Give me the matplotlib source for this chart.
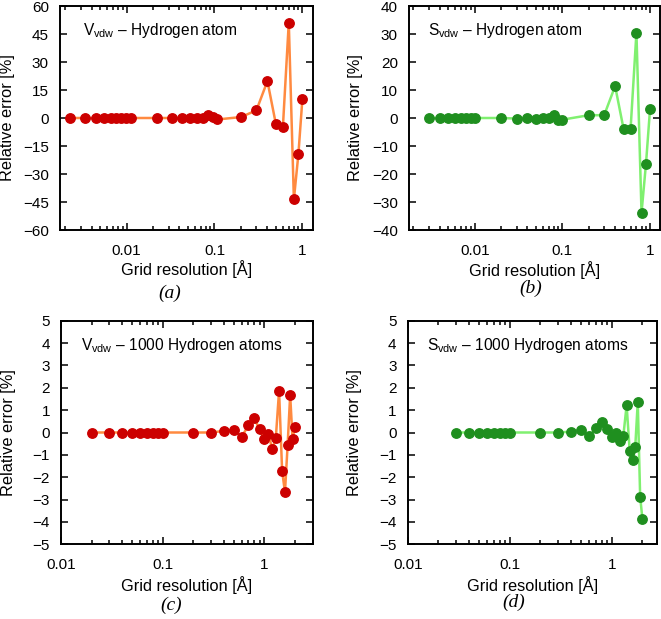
import matplotlib
matplotlib.use('Agg')
import matplotlib.pyplot as plt
from matplotlib.ticker import LogLocator, NullFormatter

plt.rcParams['font.family'] = ['Liberation Sans', 'DejaVu Sans']
plt.rcParams['mathtext.fontset'] = 'custom'
plt.rcParams['mathtext.rm'] = 'Liberation Sans'
plt.rcParams['mathtext.it'] = 'Liberation Sans:italic'

# (a) V_vdw - one hydrogen atom
a_x = [0.0023, 0.0034, 0.0045, 0.0056, 0.0066, 0.0076, 0.0087, 0.0098, 0.0111,
       0.022, 0.033, 0.043, 0.053, 0.063, 0.074, 0.084, 0.096, 0.107,
       0.2, 0.3, 0.4, 0.5, 0.6, 0.7, 0.8, 0.9, 1.0]
a_y = [0, 0, 0, 0, 0, 0, 0, 0, 0,
       0, 0, 0, 0, 0.2, 0, 1.8, 0.4, -0.8,
       0.5, 4.1, 19.8, -3.4, -4.8, 51.1, -43.6, -19.5, 10.2]

# (b) S_vdw - one hydrogen atom
b_x = [0.003, 0.004, 0.005, 0.006, 0.007, 0.008, 0.009, 0.01,
       0.02, 0.03, 0.04, 0.05, 0.06, 0.07, 0.08, 0.09, 0.1,
       0.2, 0.3, 0.4, 0.5, 0.6, 0.7, 0.8, 0.9, 1.0]
b_y = [0, 0, 0, 0, 0, 0, 0, 0,
       0, -0.2, 0.1, -0.5, -0.1, -0.1, 1.2, -0.8, -0.6,
       1.0, 1.0, 11.4, -4.0, -4.0, 30.5, -33.9, -16.3, 3.1]

# (c) V_vdw - 1000 hydrogen atoms
c_x = [0.02, 0.03, 0.04, 0.05, 0.06, 0.07, 0.08, 0.09, 0.1,
       0.2, 0.3, 0.4, 0.5, 0.6, 0.7, 0.8, 0.9, 1.0,
       1.1, 1.2, 1.3, 1.4, 1.5, 1.6, 1.7, 1.8, 1.9, 2.0]
c_y = [0, 0, 0, 0, 0, 0, 0, 0, 0,
       0, 0, 0.07, 0.11, -0.2, 0.33, 0.63, 0.14, -0.29,
       -0.06, -0.75, -0.26, 1.87, -1.71, -2.67, -0.56, 1.68, -0.29, 0.26]

# (d) S_vdw - 1000 hydrogen atoms
d_x = [0.03, 0.04, 0.05, 0.06, 0.07, 0.08, 0.09, 0.1,
       0.2, 0.3, 0.4, 0.5, 0.6, 0.7, 0.8, 0.9, 1.0,
       1.1, 1.2, 1.3, 1.4, 1.5, 1.6, 1.7, 1.8, 1.9, 2.0]
d_y = [0, 0, 0, 0, 0, 0, 0, 0,
       0, 0, 0.04, 0.1, -0.17, 0.19, 0.48, 0.16, -0.19,
       -0.02, -0.4, -0.15, 1.22, -0.82, -1.22, -0.66, 1.37, -2.87, -3.88]

titles = [r'V$_{\rm vdw}$ – Hydrogen atom', r'S$_{\rm vdw}$ – Hydrogen atom',
          r'V$_{\rm vdw}$ – 1000 Hydrogen atoms', r'S$_{\rm vdw}$ – 1000 Hydrogen atoms']
panel_tags = ['(a)', '(b)', '(c)', '(d)']

red, orange = '#cc0000', '#ff8a40'
green, lightgreen = '#1f8f1f', '#80f070'

fig = plt.figure(figsize=(6.61, 6.19), dpi=100)

W, H = 661.0, 619.0
boxes = [(60, 313, 6, 230), (409, 660, 6, 230), (61, 312.7, 320.7, 544.3), (407.7, 656.7, 320.7, 544.3)]
xlims = [(0.00175, 1.32), (0.00178, 1.3), (0.01, 3.0), (0.01, 2.76)]
ylims = [(-60, 60), (-40, 40), (-5, 5), (-5, 5)]
yticks = [range(-60, 61, 15), range(-40, 41, 10), range(-5, 6), range(-5, 6)]
series = [(a_x, a_y, orange, red), (b_x, b_y, lightgreen, green),
          (c_x, c_y, orange, red), (d_x, d_y, lightgreen, green)]
title_x = [0.091, 0.076, 0.079, 0.076]
tag_pos = [(170, 293), (531, 288), (171, 605), (514, 602)]

for i in range(4):
    l, r, t, b = boxes[i]
    ax = fig.add_axes([l / W, 1 - b / H, (r - l) / W, (b - t) / H])
    xs, ys, lc, mc = series[i]
    ax.plot(xs, ys, '-', color=lc, lw=1.8, zorder=2)
    ax.plot(xs, ys, 'o', color=mc, ms=6.8, mec=mc, zorder=3)
    ax.set_xscale('log')
    ax.set_xlim(*xlims[i])
    ax.set_ylim(*ylims[i])
    ax.set_yticks(list(yticks[i]))
    ax.set_xticks([0.01, 0.1, 1])
    ax.set_xticklabels(['0.01', '0.1', '1'])
    ax.xaxis.set_minor_locator(LogLocator(base=10, subs=range(2, 10), numticks=20))
    ax.xaxis.set_minor_formatter(NullFormatter())
    ax.tick_params(which='major', direction='in', top=True, right=True,
                   length=5, width=1.1, labelsize=11)
    ax.tick_params(which='minor', direction='in', top=True, right=True,
                   length=3, width=1.1)
    ax.tick_params(axis='x', which='major', pad=10)
    ax.tick_params(axis='y', which='major', pad=8)
    for s in ax.spines.values():
        s.set_linewidth(1.4)
    ax.set_xlabel('Grid resolution [Å]', fontsize=11.8)
    ax.set_ylabel('Relative error [%]', fontsize=11.8)
    ax.xaxis.set_label_coords(0.5, -0.135 if i == 0 else -0.14)
    ax.yaxis.set_label_coords(-0.178 if l < 100 else -0.182, 0.5)
    ax.text(title_x[i], 0.87, titles[i], transform=ax.transAxes,
            fontsize=11.2, va='baseline', ha='left')
    tx, ty = tag_pos[i]
    fig.text(tx / W, 1 - ty / H, panel_tags[i], ha='center', va='center',
             fontsize=14, family='Liberation Serif', style='italic')

fig.savefig('out.png', dpi=100)
